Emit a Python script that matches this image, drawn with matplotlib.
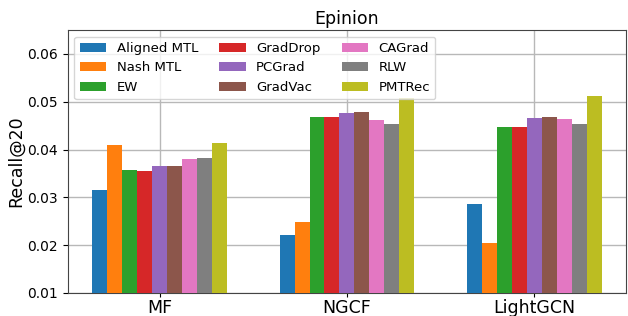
import numpy as np
import matplotlib.pyplot as plt

# Data
models = ['MF', 'NGCF', 'LightGCN']
methods = ['Aligned MTL', 'Nash MTL', 'EW', 'GradDrop', 'PCGrad',
           'GradVac', 'CAGrad', 'RLW', 'PMTRec']
aligned_mtl = [0.0316, 0.0221, 0.0286]
nash_mtl = [0.0410, 0.0249, 0.0205]
ew = [0.0357, 0.0468, 0.0447]
graddrop = [0.0355, 0.0468, 0.0447]
pcgrad = [0.0366, 0.0477, 0.0466]
gradvac = [0.0366, 0.0479, 0.0468]
cagrad = [0.0380, 0.0462, 0.0464]
rlw = [0.0382, 0.0454, 0.0454]
pmtrec = [0.0414, 0.0508, 0.0512]
values = [aligned_mtl, nash_mtl, ew, graddrop, pcgrad, gradvac, cagrad, rlw, pmtrec]

x = np.arange(len(models))
width = 0.08

fig, ax = plt.subplots(figsize=(6.28, 3.16), dpi=100)
for i, (name, vals) in enumerate(zip(methods, values)):
    ax.bar(x + (i - 4) * width, vals, width, label=name, zorder=3)

ax.set_xticks(x)
ax.set_xticklabels(models, fontsize=12.5)
ax.tick_params(axis='x', pad=1.5, length=3)
ax.set_xlim(-0.49, 2.49)
ax.set_ylim(0.01, 0.065)
ax.set_yticks([0.01, 0.02, 0.03, 0.04, 0.05, 0.06])
ax.tick_params(axis='y', labelsize=10)
ax.set_ylabel('Recall@20', fontsize=12.5, labelpad=2)
ax.set_title('Epinion', fontsize=12.5, pad=4)
ax.grid(True, linewidth=1, color='#b8b8b8', zorder=0)
ax.set_axisbelow(True)
ax.legend(ncol=3, loc='upper left', fontsize=9.5, columnspacing=1.6)
for s in ax.spines.values():
    s.set_color('#444444')

plt.subplots_adjust(left=0.108, right=0.997, bottom=0.073, top=0.905)
plt.savefig('out.png')
